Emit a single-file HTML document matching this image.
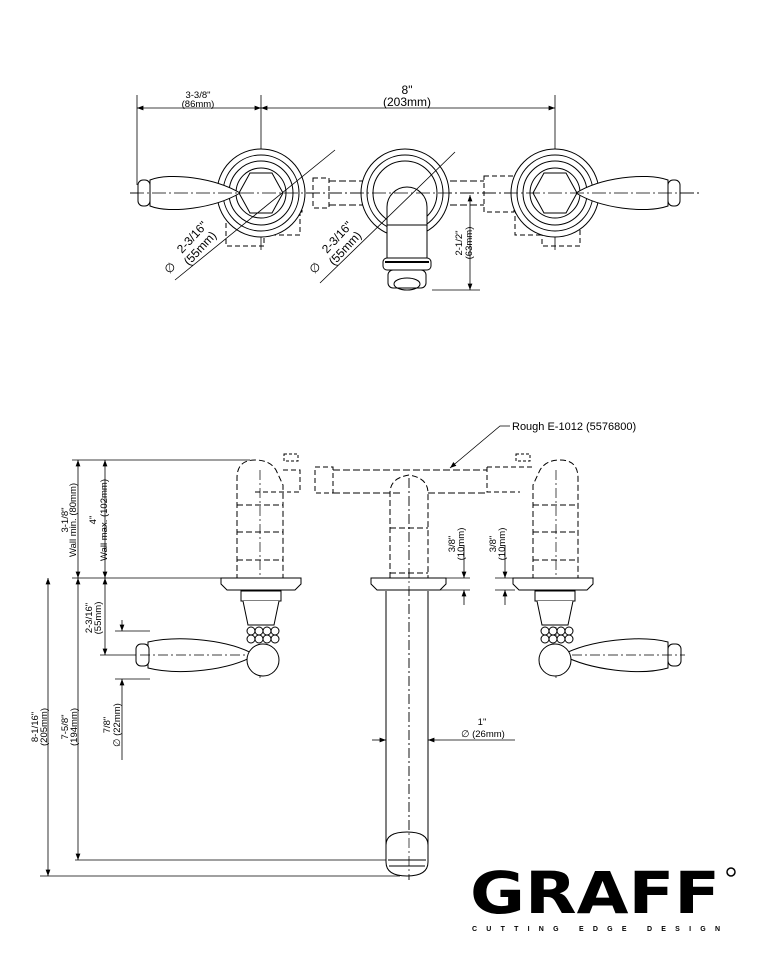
<!DOCTYPE html>
<html><head><meta charset="utf-8"><style>
html,body{margin:0;padding:0;background:#fff;}
svg{display:block;}
text{font-family:"Liberation Sans",sans-serif;fill:#000;}
</style></head><body>
<svg width="770" height="963" viewBox="0 0 770 963" xmlns="http://www.w3.org/2000/svg">
<defs>
<marker id="a" markerWidth="8" markerHeight="6" refX="8" refY="3" orient="auto-start-reverse"><path d="M0,0 L8,3 L0,6z" fill="#000"/></marker>
</defs>
<g stroke="#000" fill="none" stroke-width="1">
<!-- TOP VIEW -->
<line x1="137" y1="95" x2="137" y2="185" stroke-width="0.8"/>
<line x1="261" y1="95" x2="261" y2="250" stroke-width="0.8"/>
<line x1="555" y1="95" x2="555" y2="250" stroke-width="0.8"/>
<line x1="137" y1="108" x2="261" y2="108" marker-start="url(#a)" marker-end="url(#a)" stroke-width="0.8"/>
<line x1="261" y1="108" x2="555" y2="108" marker-start="url(#a)" marker-end="url(#a)" stroke-width="0.8"/>
<line x1="130" y1="193" x2="700" y2="193" stroke-dasharray="14,3,2,3" stroke-width="0.7"/>
<rect x="288" y="176" width="14" height="36" stroke-dasharray="5,3"/>
<rect x="313" y="178" width="16" height="30" stroke-dasharray="5,3"/>
<path d="M329,181 H370 M329,205 H370 M440,181 H484 M440,205 H484" stroke-dasharray="7,3"/>
<rect x="484" y="176" width="30" height="36" stroke-dasharray="5,3"/>
<rect x="226" y="220" width="38" height="26" stroke-dasharray="5,3"/>
<rect x="274" y="213" width="26" height="22" stroke-dasharray="5,3"/>
<rect x="515" y="213" width="26" height="22" stroke-dasharray="5,3"/>
<rect x="542" y="220" width="38" height="26" stroke-dasharray="5,3"/>
<!-- left rosette -->
<circle cx="261" cy="193" r="44" fill="#fff"/>
<circle cx="261" cy="193" r="38"/><circle cx="261" cy="193" r="32"/><circle cx="261" cy="193" r="25"/>
<polygon points="250,173 272,173 283,193 272,213 250,213 239,193" fill="#fff"/>
<path d="M240,193 C215,178 170,172 150,180 L150,206 C170,214 215,208 240,193" fill="#fff"/>
<rect x="138" y="180" width="12" height="26" rx="5" fill="#fff"/>
<!-- center -->
<circle cx="405" cy="193" r="44" fill="#fff"/>
<circle cx="405" cy="193" r="38"/><circle cx="405" cy="193" r="32"/>
<path d="M387,260 V207 A20,20 0 0 1 427,207 V260" fill="#fff"/>
<path d="M387,225 H427"/>
<rect x="383" y="258" width="48" height="12" rx="4" fill="#fff"/>
<line x1="385" y1="262" x2="429" y2="262" stroke-width="2"/>
<rect x="388" y="270" width="38" height="18" rx="5" fill="#fff"/>
<ellipse cx="407" cy="284" rx="13" ry="6"/>
<!-- right rosette -->
<circle cx="555" cy="193" r="44" fill="#fff"/>
<circle cx="555" cy="193" r="38"/><circle cx="555" cy="193" r="32"/><circle cx="555" cy="193" r="25"/>
<polygon points="544,173 566,173 577,193 566,213 544,213 533,193" fill="#fff"/>
<path d="M576,193 C600,178 645,172 668,180 L668,206 C645,214 600,208 576,193" fill="#fff"/>
<rect x="668" y="180" width="12" height="26" rx="5" fill="#fff"/>
<line x1="130" y1="193" x2="700" y2="193" stroke-dasharray="14,3,2,3" stroke-width="0.7"/>
<line x1="175" y1="280" x2="335" y2="150" stroke-width="0.8"/>
<line x1="320" y1="283" x2="455" y2="152" stroke-width="0.8"/>
<line x1="432" y1="290" x2="480" y2="290" stroke-width="0.8"/>
<line x1="470" y1="195" x2="470" y2="290" marker-start="url(#a)" marker-end="url(#a)" stroke-width="0.8"/>

<!-- SIDE VIEW -->
<line x1="72" y1="460" x2="250" y2="460" stroke-width="0.8"/>
<line x1="72" y1="578" x2="225" y2="578" stroke-width="0.8"/>
<line x1="40" y1="876" x2="400" y2="876" stroke-width="0.8"/>
<line x1="75" y1="860" x2="390" y2="860" stroke-width="0.8"/>
<line x1="48" y1="578" x2="48" y2="876" marker-start="url(#a)" marker-end="url(#a)" stroke-width="0.8"/>
<line x1="78" y1="460" x2="78" y2="578" marker-start="url(#a)" marker-end="url(#a)" stroke-width="0.8"/>
<line x1="78" y1="578" x2="78" y2="860" marker-start="url(#a)" marker-end="url(#a)" stroke-width="0.8"/>
<line x1="105" y1="460" x2="105" y2="578" marker-start="url(#a)" marker-end="url(#a)" stroke-width="0.8"/>
<line x1="105" y1="578" x2="105" y2="655" marker-start="url(#a)" marker-end="url(#a)" stroke-width="0.8"/>
<line x1="100" y1="655" x2="150" y2="655" stroke-width="0.8"/>
<line x1="115" y1="631" x2="150" y2="631" stroke-width="0.8"/>
<line x1="115" y1="679" x2="150" y2="679" stroke-width="0.8"/>
<line x1="122" y1="620" x2="122" y2="631" marker-end="url(#a)" stroke-width="0.8"/>
<line x1="122" y1="690" x2="122" y2="679" marker-end="url(#a)" stroke-width="0.8"/>
<line x1="122" y1="690" x2="122" y2="760" stroke-width="0.8"/>
<path d="M237,580 V478 Q237,460 255,460 Q270,460 276,470 L283,485 V580" stroke-dasharray="6,3"/>
<path d="M237,532 H283 M237,560 H283 M237,505 H283" stroke-dasharray="6,3"/>
<path d="M255,492 H290 M283,470 H300 V492 H290" stroke-dasharray="5,3"/>
<rect x="284" y="454" width="14" height="7" stroke-dasharray="3,2"/>
<rect x="315" y="467" width="18" height="26" stroke-dasharray="5,3"/>
<path d="M333,470 H487 M333,493 H400 M428,493 H487" stroke-dasharray="7,3"/>
<path d="M487,467 V492 H520 M487,467 H535" stroke-dasharray="5,3"/>
<rect x="516" y="454" width="14" height="7" stroke-dasharray="3,2"/>
<path d="M533,580 V485 L540,470 Q546,460 560,460 Q578,460 578,478 V580" stroke-dasharray="6,3"/>
<path d="M533,532 H578 M533,560 H578 M533,505 H578" stroke-dasharray="6,3"/>
<path d="M390,578 V493 Q390,478 409,475 Q428,478 428,493 V578" stroke-dasharray="6,3"/>
<path d="M390,528 H428 M390,573 H428" stroke-dasharray="6,3"/>
<line x1="260" y1="470" x2="260" y2="680" stroke-dasharray="10,3,2,3" stroke-width="0.7"/>
<line x1="556" y1="470" x2="556" y2="680" stroke-dasharray="10,3,2,3" stroke-width="0.7"/>
<line x1="409" y1="478" x2="409" y2="880" stroke-dasharray="10,3,2,3" stroke-width="0.7"/>
<path d="M221,578 H301 V584 L295,590 H227 L221,584 Z" fill="#fff"/>
<path d="M371,578 H446 V584 L440,590 H377 L371,584 Z" fill="#fff"/>
<path d="M513,578 H593 V584 L587,590 H519 L513,584 Z" fill="#fff"/>
<rect x="241" y="591" width="40" height="10" fill="#fff"/>
<path d="M243,601 L248,625 H274 L279,601" fill="#fff"/>
<g fill="#fff"><circle cx="251" cy="631" r="4"/><circle cx="259" cy="631" r="4"/><circle cx="267" cy="631" r="4"/><circle cx="275" cy="631" r="4"/><circle cx="251" cy="639" r="4"/><circle cx="259" cy="639" r="4"/><circle cx="267" cy="639" r="4"/><circle cx="275" cy="639" r="4"/></g>
<path d="M255,655 C230,640 180,635 148,642 L148,668 C180,676 230,670 255,655" fill="#fff"/>
<circle cx="263" cy="660" r="16" fill="#fff"/>
<rect x="136" y="644" width="13" height="22" rx="5" fill="#fff"/>
<rect x="535" y="591" width="40" height="10" fill="#fff"/>
<path d="M537,601 L542,625 H568 L573,601" fill="#fff"/>
<g fill="#fff"><circle cx="545" cy="631" r="4"/><circle cx="553" cy="631" r="4"/><circle cx="561" cy="631" r="4"/><circle cx="569" cy="631" r="4"/><circle cx="545" cy="639" r="4"/><circle cx="553" cy="639" r="4"/><circle cx="561" cy="639" r="4"/><circle cx="569" cy="639" r="4"/></g>
<path d="M562,655 C590,640 640,635 668,642 L668,668 C640,676 590,670 562,655" fill="#fff"/>
<circle cx="555" cy="660" r="16" fill="#fff"/>
<rect x="668" y="644" width="13" height="22" rx="5" fill="#fff"/>
<line x1="140" y1="655" x2="245" y2="655" stroke-dasharray="10,3,2,3" stroke-width="0.7"/>
<line x1="572" y1="655" x2="685" y2="655" stroke-dasharray="10,3,2,3" stroke-width="0.7"/>
<path d="M386,591 V850 M428,591 V850"/>
<path d="M386,845 Q386,832 407,832 Q428,832 428,845 V862 Q428,876 407,876 Q386,876 386,862 Z" fill="#fff"/>
<path d="M388,860 H426 M389,866 H425"/>
<line x1="409" y1="478" x2="409" y2="880" stroke-dasharray="10,3,2,3" stroke-width="0.7"/>
<line x1="372" y1="740" x2="386" y2="740" marker-end="url(#a)" stroke-width="0.8"/>
<line x1="440" y1="740" x2="428" y2="740" marker-end="url(#a)" stroke-width="0.8"/>
<line x1="440" y1="740" x2="515" y2="740" stroke-width="0.8"/>
<line x1="430" y1="578" x2="470" y2="578" stroke-width="0.8"/>
<line x1="430" y1="590" x2="470" y2="590" stroke-width="0.8"/>
<line x1="464" y1="545" x2="464" y2="578" marker-end="url(#a)" stroke-width="0.8"/>
<line x1="464" y1="605" x2="464" y2="590" marker-end="url(#a)" stroke-width="0.8"/>
<line x1="495" y1="578" x2="515" y2="578" stroke-width="0.8"/>
<line x1="495" y1="590" x2="515" y2="590" stroke-width="0.8"/>
<line x1="505" y1="545" x2="505" y2="578" marker-end="url(#a)" stroke-width="0.8"/>
<line x1="505" y1="605" x2="505" y2="590" marker-end="url(#a)" stroke-width="0.8"/>
<path d="M510,426 H500 L450,468" marker-end="url(#a)" stroke-width="0.8"/>
</g>
<g font-size="9.5" text-anchor="middle">
<text x="198" y="98">3-3/8"</text><text x="198" y="107">(86mm)</text>
<text x="407" y="94" font-size="12">8"</text><text x="407" y="106" font-size="12">(203mm)</text>
<text transform="translate(195,240) rotate(-47)" font-size="12">2-3/16"</text>
<text transform="translate(203,251) rotate(-47)" font-size="12">(55mm)</text>
<text x="170" y="272" font-size="12" transform="rotate(-47 170 268)">∅</text>
<text transform="translate(340,240) rotate(-47)" font-size="12">2-3/16"</text>
<text transform="translate(348,251) rotate(-47)" font-size="12">(55mm)</text>
<text x="315" y="272" font-size="12" transform="rotate(-47 315 268)">∅</text>
<text transform="translate(462,243) rotate(-90)">2-1/2"</text>
<text transform="translate(472,243) rotate(-90)">(63mm)</text>
<text transform="translate(68,520) rotate(-90)">3-1/8"</text>
<text transform="translate(76,520) rotate(-90)">Wall min. (80mm)</text>
<text transform="translate(96,520) rotate(-90)">4"</text>
<text transform="translate(107,520) rotate(-90)">Wall max. (102mm)</text>
<text transform="translate(92,618) rotate(-90)">2-3/16"</text>
<text transform="translate(101,618) rotate(-90)">(55mm)</text>
<text transform="translate(38,727) rotate(-90)">8-1/16"</text>
<text transform="translate(47,727) rotate(-90)">(205mm)</text>
<text transform="translate(68,727) rotate(-90)">7-5/8"</text>
<text transform="translate(77,727) rotate(-90)">(194mm)</text>
<text transform="translate(110,725) rotate(-90)">7/8"</text>
<text transform="translate(120,725) rotate(-90)">∅ (22mm)</text>
<text transform="translate(455,544) rotate(-90)">3/8"</text>
<text transform="translate(464,544) rotate(-90)">(10mm)</text>
<text transform="translate(496,544) rotate(-90)">3/8"</text>
<text transform="translate(505,544) rotate(-90)">(10mm)</text>
<text x="482" y="725">1"</text>
<text x="483" y="737">∅ (26mm)</text>
</g>
<text x="512" y="430" font-size="11">Rough E-1012 (5576800)</text>
<text x="470" y="913" font-size="58" font-weight="bold" textLength="250" lengthAdjust="spacingAndGlyphs" style="font-family:'DejaVu Sans','Liberation Sans',sans-serif">GRAFF</text>
<circle cx="731" cy="872" r="4" fill="#fff" stroke="#000" stroke-width="1.5"/>
<text x="472" y="931" font-size="7" font-weight="bold" textLength="248" lengthAdjust="spacing">CUTTING EDGE DESIGN</text>
</svg>
</body></html>
